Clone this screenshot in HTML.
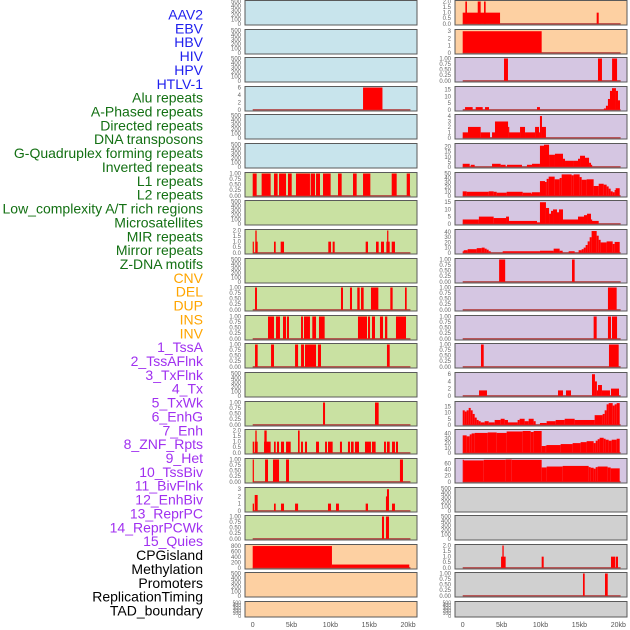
<!DOCTYPE html>
<html><head><meta charset="utf-8">
<style>
html,body{margin:0;padding:0;background:#fff;}
svg{display:block;font-family:"Liberation Sans",sans-serif;}
</style></head>
<body>
<svg id="chart" width="630" height="630" viewBox="0 0 630 630"></svg>
<script>
// ---------- label data ----------
const labelNames = ["AAV2","EBV","HBV","HIV","HPV","HTLV-1","Alu repeats","A-Phased repeats","Directed repeats","DNA transposons","G-Quadruplex forming repeats","Inverted repeats","L1 repeats","L2 repeats","Low_complexity A/T rich regions","Microsatellites","MIR repeats","Mirror repeats","Z-DNA motifs","CNV","DEL","DUP","INS","INV","1_TssA","2_TssAFlnk","3_TxFlnk","4_Tx","5_TxWk","6_EnhG","7_Enh","8_ZNF_Rpts","9_Het","10_TssBiv","11_BivFlnk","12_EnhBiv","13_ReprPC","14_ReprPCWk","15_Quies","CPGisland","Methylation","Promoters","ReplicationTiming","TAD_boundary"];
const labelGroups = [0,0,0,0,0,0,1,1,1,1,1,1,1,1,1,1,1,1,1,2,2,2,2,2,3,3,3,3,3,3,3,3,3,3,3,3,3,3,3,4,4,4,4,4];
const groupColors = ["#2020ee","#137013","#ffa500","#a030f0","#000000"];
const xTickLabels = ["0","5kb","10kb","15kb","20kb"];
const xTickValues = [0,5,10,15,20];

// ---------- tick label sets ----------
const tEmpty = ["0","100","200","300","400","500"];
const tEmptyV = [0,100,200,300,400,500];
const tFrac = ["0.00","0.25","0.50","0.75","1.00"];
const tFracV = [0,0.25,0.5,0.75,1];
const tHalf2 = ["0.0","0.5","1.0","1.5","2.0"];
const tHalf2V = [0,0.5,1,1.5,2];

// ---------- middle column series: [startKb, endKb, value] ----------
const m3 = [[14.2,16.7,6]];
const m6 = [[0,0.51,1],[1.15,2.31,1],[2.74,3.21,1],[3.39,4.29,1],[4.54,5.02,1],[5.57,7.37,1],[7.46,8.02,1],[8.15,8.66,1],[9.05,10.03,1],[10.98,11.45,1],[12.91,13.38,1],[14.2,15.14,1],[17.89,18.53,1],[19.82,20.24,1]];
const m8 = [[0,0.13,1],[0.34,0.64,1],[0.34,0.51,2],[2.74,2.96,1],[3.6,4.03,1],[9.73,10.08,1],[10.29,10.55,1],[14.54,14.84,1],[15.87,16.21,1],[16.51,16.9,1],[17.2,17.63,1],[17.3,17.46,2],[17.89,18.31,1]];
const m10 = [[0.3,0.55,1],[11.36,11.62,1],[12.52,12.78,1],[13.46,13.77,1],[13.94,14.28,1],[15.22,16.17,1],[17.71,18.01,1],[19.6,19.82,1]];
const m11 = [[1.97,2.74,1],[3.0,3.51,1],[3.9,4.29,1],[4.41,4.67,1],[6.22,6.47,1],[6.6,7.37,1],[7.67,8.15,1],[8.53,9.26,1],[13.55,14.71,1],[14.84,15.1,1],[15.35,15.74,1],[16.38,16.77,1],[17.03,17.32,1],[18.44,19.73,1]];
const m12 = [[0.3,0.64,1],[2.36,2.74,1],[5.45,5.84,1],[6.22,6.6,1],[6.73,8.15,1],[8.4,8.79,1],[17.28,17.63,1]];
const m14 = [[9.05,9.31,1],[15.74,16.21,1]];
const m15 = [[0,0.17,1],[0.26,0.64,1],[1.46,2.31,1],[2.74,2.96,1],[3.13,3.39,1],[3.64,4.03,1],[4.29,4.89,1],[6.22,6.47,1],[6.73,6.99,1],[8.15,8.53,1],[9.31,9.56,1],[9.69,10.29,1],[11.23,11.49,1],[12.26,12.52,1],[12.65,12.99,1],[13.16,13.68,1],[14.45,15.22,1],[15.35,15.82,1],[16.9,17.15,1],[17.28,17.63,1],[17.93,18.31,1],[18.44,18.7,1],[0.34,0.51,2],[1.5,1.8,2],[5.83,6.04,2]];
const m16 = [[0,0.13,1],[1.59,1.97,1],[2.61,3.39,1],[4.29,4.67,1],[18.95,19.34,1]];
const m17 = [[0,0.17,1],[0.26,0.64,2.2],[2.74,2.96,1],[3.64,4.03,1],[5.45,5.84,1],[9.69,10.08,1],[10.72,11.1,1],[14.54,14.84,1],[17.15,17.28,2],[17.28,17.54,3],[17.93,18.31,1]];
const m18 = [[16.64,16.9,1],[17.15,17.54,1]];
const m19 = [[0,10.2,800],[10.2,20.15,120]];

// ---------- right column series ----------
const r0 = [[0,4.8,1],[0.34,0.55,2],[1.93,2.31,2],[2.74,2.95,2],[17.22,17.48,1]];
const r1 = [[0,10.15,3]];
const r2 = [[5.31,5.82,1],[17.39,17.9,1],[19.2,19.84,1]];
const r3 = [[0.3,1.28,2],[1.67,2.57,2],[2.87,3.38,2],[9.55,9.93,2],[18.15,18.41,1],[18.41,18.67,3],[18.67,18.93,8],[18.93,19.19,14],[19.19,19.7,16],[19.7,19.96,14],[19.96,20.22,7]];
const r4 = [[0,0.68,1],[0.68,2.31,2],[2.31,3.51,1],[3.77,4.15,1],[4.15,5.83,3],[5.83,5.95,2],[5.95,7.37,1],[7.37,8.01,2],[8.01,9.3,1],[9.3,9.81,2],[9.81,9.93,1],[9.93,10.19,4],[10.19,10.7,2]];
const r5 = [[0,0.9,3],[1.03,1.54,2],[3.77,4.88,3],[4.88,5.52,2],[5.69,7.62,2],[8.26,8.91,2],[8.91,9.93,3],[9.93,10.45,21],[10.45,11.1,22],[11.1,11.86,12],[11.86,12.89,13],[12.89,13.15,8],[13.15,14.3,6],[14.3,14.82,6],[14.82,15.08,8],[15.08,15.72,11],[15.72,16.24,9],[16.24,16.49,4],[16.49,16.62,2]];
const r6 = [[0,0.51,10],[0.51,3.34,9],[3.34,3.98,10],[3.98,4.37,9],[4.37,5.65,7],[5.65,7.71,9],[7.71,8.78,7],[8.78,8.87,5],[8.87,9.93,8],[9.93,10.58,33],[10.58,10.79,31],[10.79,11.05,38],[11.05,11.82,43],[11.82,12.46,37],[12.46,12.72,40],[12.72,14.0,48],[14.0,14.26,46],[14.26,15.03,48],[15.03,15.29,42],[15.29,15.93,36],[15.93,16.83,37],[16.83,17.48,22],[17.48,18.12,27],[18.12,18.5,25],[18.5,18.76,21],[18.76,19.02,16],[19.02,19.28,10],[19.28,19.53,8],[19.53,19.66,13],[19.66,20.18,17]];
const r7 = [[0,2.08,3],[2.08,3.98,5],[3.98,5.57,4],[5.57,5.95,5],[5.95,9.55,2],[9.55,9.93,1],[9.93,10.7,15],[10.7,11.1,11],[11.1,11.35,7],[11.35,11.61,9],[11.61,12.12,10],[12.12,12.38,8],[12.38,12.89,10],[12.89,14.82,3],[14.82,15.59,5],[15.59,15.98,6],[15.98,16.49,7],[16.49,16.62,3],[16.62,17.48,2]];
const r8 = [[0,0.13,3],[0.13,0.64,5],[0.64,1.8,7],[1.8,2.44,9],[2.44,2.82,10],[2.82,3.08,8],[3.08,3.34,6],[3.34,3.6,3],[5.14,9.93,3],[9.93,11.69,4],[11.69,12.46,8],[12.46,12.85,4],[13.62,14.39,3],[14.9,15.29,5],[15.29,15.55,7],[15.55,15.8,10],[15.8,16.06,15],[16.06,16.32,22],[16.32,16.57,30],[16.57,17.22,42],[17.22,17.48,33],[17.48,17.73,25],[17.73,18.5,20],[18.5,19.28,22],[19.28,19.53,17],[19.53,20.18,21]];
const r9 = [[4.68,5.46,1],[14.05,14.39,1]];
const r10 = [[18.67,19.79,1]];
const r11 = [[16.83,17.22,1],[18.67,19.06,1],[19.19,19.84,1]];
const r12 = [[2.35,2.7,1],[18.8,20.05,1]];
const r13 = [[2.1,3.12,1.5],[12.25,12.89,1.5],[13.28,13.92,1.5],[16.62,17.0,6],[17.0,17.25,4],[17.25,17.39,1.5],[17.39,17.9,3],[17.9,18.93,1.5],[19.06,20.09,2]];
const r14 = [[0,0.26,12],[0.26,0.51,11],[0.51,0.77,12],[0.77,1.03,14],[1.03,1.28,12],[1.28,1.54,9],[1.54,1.8,6],[1.8,2.05,4],[2.05,2.31,3],[2.31,2.82,2],[2.82,3.34,3],[3.34,4.11,2],[4.11,4.88,4],[4.88,5.39,5],[5.39,5.82,4],[5.82,7.06,2],[7.06,7.32,4],[7.32,7.96,5],[7.96,8.48,3],[8.48,9.12,5],[9.12,9.38,3],[9.93,10.79,1.5],[10.79,11.95,3],[11.95,13.11,4],[13.11,14.39,5],[14.39,16.96,4],[16.96,17.99,8],[17.99,18.25,9],[18.25,18.5,12],[18.5,18.76,17],[18.76,19.28,18],[19.28,19.53,16],[19.53,19.79,17],[19.79,20.18,18]];
const r15 = [[0,0.51,36],[0.51,0.9,34],[0.9,1.15,38],[1.15,1.54,40],[1.54,3.21,41],[3.21,4.37,42],[4.37,5.65,41],[5.65,7.71,44],[7.71,8.74,45],[8.74,9.12,43],[9.12,10.15,45],[10.15,10.66,14],[10.66,10.79,15],[10.79,12.59,16],[12.59,14.13,18],[14.13,15.16,20],[15.16,15.93,22],[15.93,16.83,24],[16.83,17.09,20],[17.09,17.35,25],[17.35,17.6,28],[17.6,18.12,31],[18.12,18.37,29],[18.37,18.76,27],[18.76,19.15,25],[19.15,19.79,27],[19.79,20.18,29]];
const r16 = [[0,0.13,72],[0.13,2.7,70],[2.7,5.52,72],[5.52,6.3,73],[6.3,10.15,72],[10.15,10.79,47],[10.79,12.85,50],[12.85,16.19,52],[16.19,16.45,48],[16.45,16.83,46],[16.83,17.09,43],[17.09,17.35,48],[17.35,18.63,50],[18.63,19.02,47],[19.02,20.18,44]];
const r19 = [[4.93,5.22,1],[5.1,5.27,2],[5.22,5.52,1],[10.15,10.41,1],[19.06,19.58,1],[19.66,19.96,1]];
const r20 = [[15.46,15.68,1],[18.29,18.64,1]];

// ---------- panel definitions: [column, row, bgKey, series, tickLabels, tickValues, yMax] ----------
const panels = [
 ["m",0,"b",null,tEmpty,tEmptyV,500],["m",1,"b",null,tEmpty,tEmptyV,500],["m",2,"b",null,tEmpty,tEmptyV,500],
 ["m",3,"b",m3,["0","2","4","6"],[0,2,4,6],6],
 ["m",4,"b",null,tEmpty,tEmptyV,500],["m",5,"b",null,tEmpty,tEmptyV,500],
 ["m",6,"g",m6,tFrac,tFracV,1],["m",7,"g",null,tEmpty,tEmptyV,500],
 ["m",8,"g",m8,tHalf2,tHalf2V,2],["m",9,"g",null,tEmpty,tEmptyV,500],
 ["m",10,"g",m10,tFrac,tFracV,1],["m",11,"g",m11,tFrac,tFracV,1],["m",12,"g",m12,tFrac,tFracV,1],
 ["m",13,"g",null,tEmpty,tEmptyV,500],["m",14,"g",m14,tFrac,tFracV,1],
 ["m",15,"g",m15,tHalf2,tHalf2V,2],["m",16,"g",m16,tFrac,tFracV,1],
 ["m",17,"g",m17,["0","1","2","3"],[0,1,2,3],3.1],["m",18,"g",m18,tFrac,tFracV,1],
 ["m",19,"o",m19,["0","200","400","600","800"],[0,200,400,600,800],820],
 ["m",20,"o",null,tEmpty,tEmptyV,500],["m",21,"o",null,tEmpty,tEmptyV,500],
 ["r",0,"o",r0,tHalf2,tHalf2V,2],["r",1,"o",r1,["0","1","2","3"],[0,1,2,3],3.1],
 ["r",2,"p",r2,tFrac,tFracV,1],["r",3,"p",r3,["0","5","10","15"],[0,5,10,15],16.5],
 ["r",4,"p",r4,["0","1","2","3","4"],[0,1,2,3,4],4.1],["r",5,"p",r5,["0","5","10","15","20"],[0,5,10,15,20],22.2],
 ["r",6,"p",r6,["0","10","20","30","40","50"],[0,10,20,30,40,50],50],["r",7,"p",r7,["0","5","10","15"],[0,5,10,15],15.5],
 ["r",8,"p",r8,["0","10","20","30","40"],[0,10,20,30,40],43],["r",9,"p",r9,tFrac,tFracV,1],
 ["r",10,"p",r10,tFrac,tFracV,1],["r",11,"p",r11,tFrac,tFracV,1],["r",12,"p",r12,tFrac,tFracV,1],
 ["r",13,"p",r13,["0","2","4","6"],[0,2,4,6],6.2],["r",14,"p",r14,["0","5","10","15"],[0,5,10,15],18.5],
 ["r",15,"p",r15,["0","10","20","30","40"],[0,10,20,30,40],46],["r",16,"p",r16,["0","20","40","60"],[0,20,40,60],73],
 ["r",17,"g2",null,tEmpty,tEmptyV,500],["r",18,"g2",null,tEmpty,tEmptyV,500],
 ["r",19,"g2",r19,tHalf2,tHalf2V,2],["r",20,"g2",r20,tFrac,tFracV,1],["r",21,"g2",null,tEmpty,tEmptyV,500]
];

const bgColors = {b:"#c8e4ec",g:"#c9e1a2",o:"#fdd0a2",p:"#d5c6e2",g2:"#d0d0d0"};
const colGeom = {m:{left:245,right:417,x0:252.7,pxPerKb:7.77},r:{left:455,right:627,x0:462.7,pxPerKb:7.78}};
const rowPitch = 28.62;

const NS = "http://www.w3.org/2000/svg";
const svg = document.getElementById("chart");
function mk(tag, attrs){const e=document.createElementNS(NS,tag);for(const k in attrs)e.setAttribute(k,attrs[k]);return e;}

// labels
labelNames.forEach(function(name,i){
  const t = mk("text",{x:203,y:14.5+i*13.86+5,"text-anchor":"end","font-size":"14",fill:groupColors[labelGroups[i]]});
  t.textContent = name;
  
  
  svg.appendChild(t);
});

function xScale(col,kb){const g=colGeom[col];return g.x0+kb*g.pxPerKb;}

panels.forEach(function(p){
  const col=p[0], row=p[1], g=colGeom[col];
  const top = Math.round(row*rowPitch)+0.5;
  const h = row===21 ? 15.5 : 24.5;
  const y0 = top + h - 1.2, yT = top + 1;
  const yScale = function(v){return y0 - v/p[6]*(y0-yT);};
  const grp = mk("g",{});
  
  
  const rect = mk("rect",{x:g.left,y:top,width:g.right-g.left,height:h,fill:bgColors[p[2]],stroke:"#5a5a5a","stroke-width":"1"});
  
  
  grp.appendChild(rect);
  // y ticks
  p[4].forEach(function(lab,k){
    const ty = yScale(p[5][k]);
    const t = mk("text",{x:g.left-4,y:ty+2,"text-anchor":"end","font-size":row===21?"5":"6",fill:"#666"});
    t.textContent = lab;
    
    
    grp.appendChild(t);
  });
  if(p[3]){
    const base = mk("line",{x1:xScale(col,0),x2:xScale(col,20.3),y1:y0,y2:y0,stroke:"#b03838","stroke-width":"1.5","stroke-opacity":"0.8"});
    
    
    grp.appendChild(base);
    p[3].forEach(function(s){
      const x1=xScale(col,s[0]), x2=xScale(col,s[1]), yy=yScale(s[2]);
      const b = mk("rect",{x:x1,y:yy,width:Math.max(1.2,x2-x1),height:y0-yy,fill:"#ff0000"});
      
      
      grp.appendChild(b);
    });
  }
  svg.appendChild(grp);
});

// x axes
["m","r"].forEach(function(col){
  xTickLabels.forEach(function(lab,k){
    const t = mk("text",{x:xScale(col,xTickValues[k]),y:627,"text-anchor":"middle","font-size":"7",fill:"#555"});
    t.textContent = lab;
    
    
    svg.appendChild(t);
  });
});
</script>
</body></html>
